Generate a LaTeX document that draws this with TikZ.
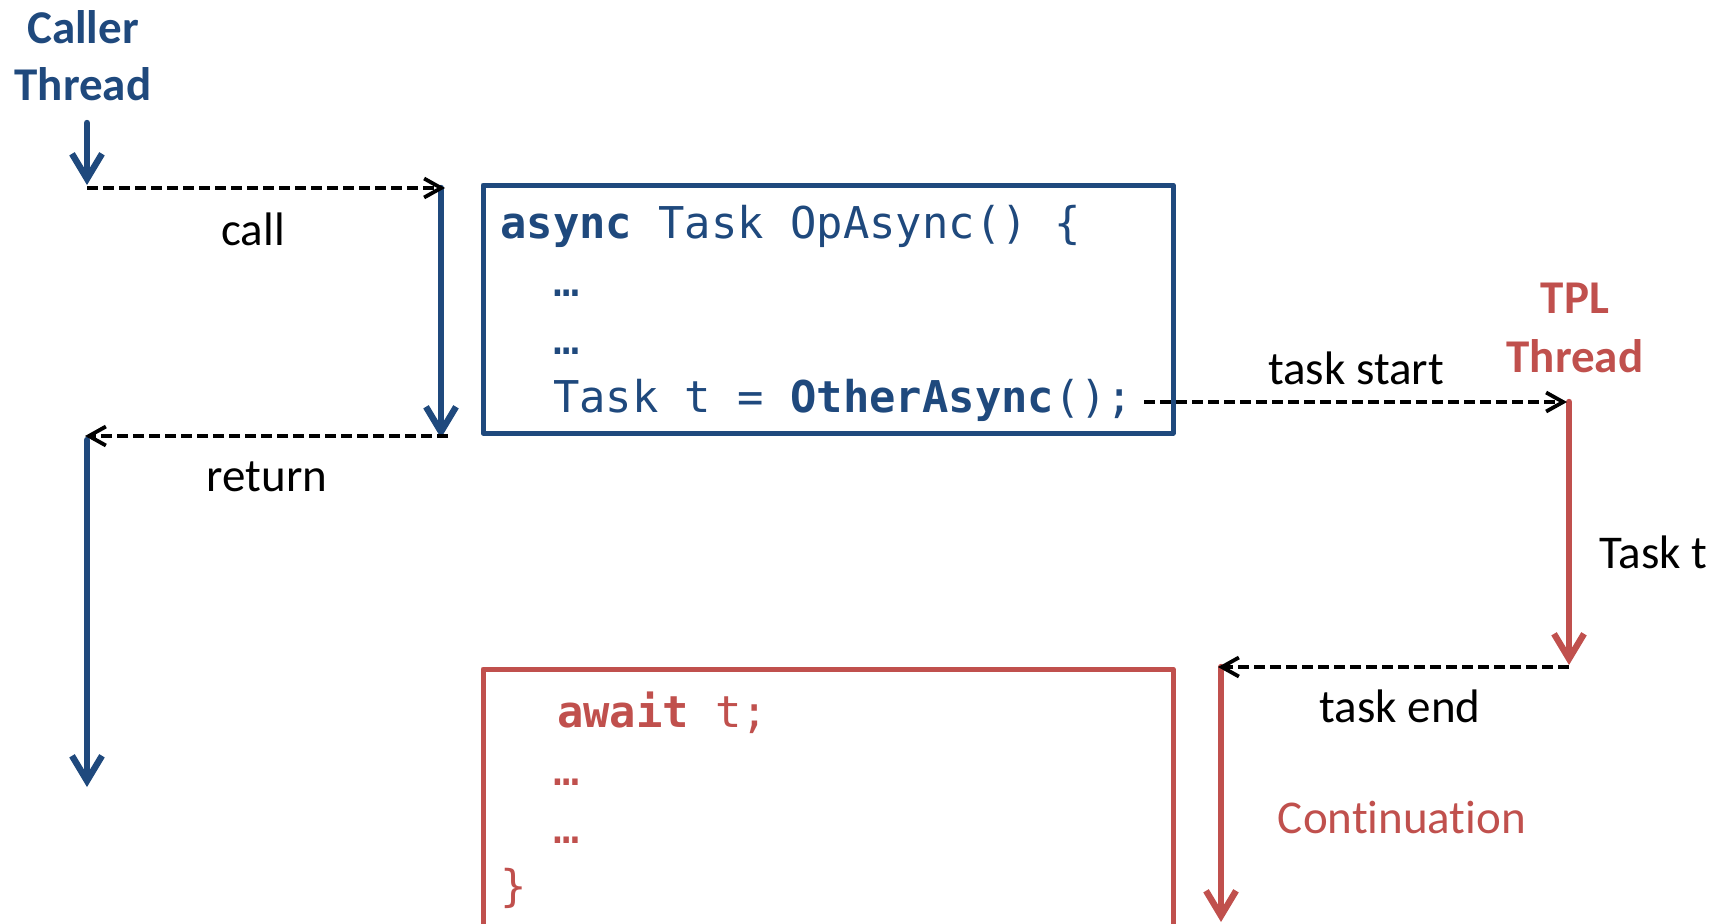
\documentclass[tikz,border=0pt]{standalone}
\usepackage{fontspec}
\setmainfont{Carlito}[Ligatures=NoCommon]
\newfontfamily\codefont{DejaVu Sans Mono}
\usetikzlibrary{arrows.meta}
\definecolor{tblue}{HTML}{1F497D}
\definecolor{tred}{HTML}{C0504D}
\newcommand\ind{\hphantom{Ta}}
\begin{document}
\begin{tikzpicture}[x=0.5pt,y=-0.5pt,
  lbl/.style={font=\fontsize{23.5}{28.5}\selectfont, inner sep=0pt, anchor=base},
  threadarrow/.style={line width=3.2pt, line cap=round, -{Straight Barb[length=12.5pt,width=15pt]}},
  msg/.style={black, line width=1.9pt, dash pattern=on 5.5pt off 2.5pt, -{Straight Barb[length=8.5pt,width=9.5pt]}},
  codebox/.style={draw, line width=2.5pt, line join=round, minimum width=345pt, inner sep=0pt, outer sep=0pt, anchor=north west},
  code/.style={font=\codefont\fontsize{21.9}{29}\selectfont, inner sep=0pt, anchor=base west}]
\useasboundingbox (0,0) rectangle (1728,923);
\clip (0,0) rectangle (1728,923);

% boxes
\node[codebox, draw=tblue, minimum height=124pt] (opbox) at (483,185) {};
\node[codebox, draw=tred, minimum height=150pt] (awbox) at (483,669) {};

% code
\node[code, text=tblue] (opcode) at (500,238) {\vtop{\halign{#\hfil\cr
\textbf{async} Task OpAsync() \{\cr
\ind …\cr
\ind …\cr
\ind Task t = \textbf{OtherAsync}();\cr}}};
\node[code, text=tred] (awcode) at (500,727) {\vtop{\halign{#\hfil\cr
\ind\hspace{2pt}\textbf{await} t;\cr
\ind …\cr
\ind …\cr
\}\cr}}};

% labels
\node[lbl, text=tblue] (caller) at (83,43) {\bfseries\vtop{\halign{\hfil#\hfil\cr Caller\cr Thread\cr}}};
\node[lbl, text=tred] (tpl) at (1575,313) {\fontsize{23.5}{29.5}\selectfont\bfseries\vtop{\halign{\hfil#\hfil\cr TPL\cr Thread\cr}}};
\node[lbl] (call) at (253,245) {call};
\node[lbl] (ret) at (267,491) {return};
\node[lbl] (tstart) at (1356,384) {task start};
\node[lbl, anchor=base west] (taskt) at (1599,568) {Task t};
\node[lbl] (tend) at (1400,722) {task end};
\node[lbl, text=tred] (cont) at (1402,833) {Continuation};

% coordinates
\coordinate (ctop) at (87,123);
\coordinate (callA) at (87,188);
\coordinate (callB) at (445,188);
\coordinate (opA) at (441,188);
\coordinate (opB) at (441,438);
\coordinate (retA) at (448,436);
\coordinate (retB) at (85,436);
\coordinate (mainA) at (87,440);
\coordinate (mainB) at (87,787);
\coordinate (stA) at (1144,402);
\coordinate (stB) at (1567,402);
\coordinate (tplA) at (1569,402);
\coordinate (tplB) at (1569,665);
\coordinate (endA) at (1569,667);
\coordinate (endB) at (1218,667);
\coordinate (contA) at (1221,667);
\coordinate (contB) at (1221,922);

% thread arrows
\draw[threadarrow, tblue, shorten >=1.5pt] (ctop) -- (callA);
\draw[threadarrow, tblue] (opA) -- (opB);
\draw[threadarrow, tblue] (mainA) -- (mainB);
\draw[threadarrow, tred] (tplA) -- (tplB);
\draw[threadarrow, tred] (contA) -- (contB);

% messages
\draw[msg] (callA) -- (callB);
\draw[msg] (retA) -- (retB);
\draw[msg] (stA) -- (stB);
\draw[msg] (endA) -- (endB);
\end{tikzpicture}
\end{document}
